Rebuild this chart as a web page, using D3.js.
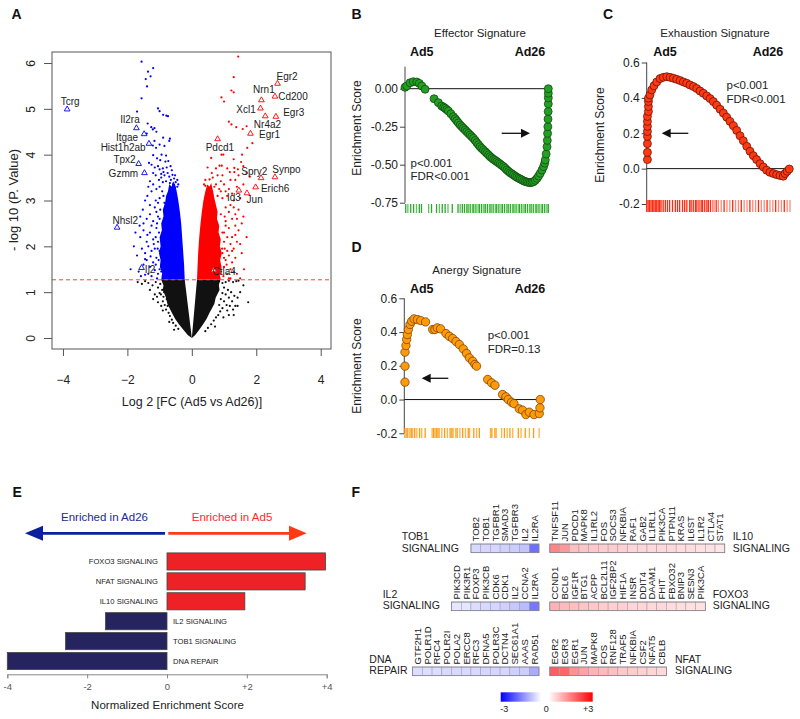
<!DOCTYPE html>
<html><head><meta charset="utf-8">
<script src="https://cdn.jsdelivr.net/npm/d3@7"></script>
<style>body{margin:0;background:#fff;} svg text{font-family:"Liberation Sans",Arial,Helvetica,sans-serif;}</style>
</head><body><svg id="fig" width="800" height="719"></svg>
<script>
// ---------------- DATA ----------------
// Panel A: volcano (log2FC, -log10 P)
const pThreshold = 1.27;
const blackCoreL = [[0,0],[-0.22,1.27],[-0.95,1.27],[-0.88,1.15],[-0.9,1.05],[-0.8,0.88],[-0.76,0.75],[-0.62,0.55],[-0.52,0.42],[-0.4,0.3],[-0.25,0.17],[-0.12,0.06]];
const blackCoreR = [[0,0],[0.16,1.27],[0.88,1.27],[0.84,1.15],[0.86,1.05],[0.74,0.88],[0.7,0.75],[0.55,0.55],[0.46,0.42],[0.35,0.3],[0.22,0.17],[0.1,0.06]];
const blueCore = [[-0.22,1.27],[-0.24,1.6],[-0.27,1.9],[-0.3,2.2],[-0.33,2.5],[-0.37,2.75],[-0.42,3.0],[-0.47,3.2],[-0.52,3.35],[-0.58,3.42],[-0.63,3.3],[-0.7,3.36],[-0.74,3.2],[-0.8,3.1],[-0.83,2.95],[-0.9,2.8],[-0.88,2.65],[-0.95,2.5],[-0.93,2.35],[-1.0,2.2],[-0.97,2.0],[-1.02,1.85],[-0.97,1.7],[-0.99,1.55],[-0.92,1.42],[-0.95,1.27]];
const redCore = [[0.16,1.27],[0.18,1.6],[0.2,1.9],[0.23,2.2],[0.27,2.5],[0.31,2.75],[0.36,3.0],[0.42,3.2],[0.48,3.35],[0.55,3.3],[0.6,3.38],[0.66,3.2],[0.7,3.05],[0.75,2.9],[0.8,2.75],[0.78,2.6],[0.85,2.45],[0.83,2.3],[0.9,2.15],[0.87,2.0],[0.93,1.85],[0.88,1.7],[0.92,1.55],[0.86,1.4],[0.9,1.27]];
const blackPts = [[-1.68,1.22],[-1.55,1.18],[-1.45,1.24],[-1.35,1.2],[-1.22,1.15],[-1.12,1.22],[-1.05,1.1],[-0.98,1.18],[-0.92,1.05],[-0.96,0.95],[-0.88,0.9],[-0.9,0.8],[-0.84,0.72],[-0.8,0.62],[-0.75,0.7],[-0.72,0.55],[-0.68,0.48],[-0.62,0.4],[-0.58,0.33],[-0.5,0.27],[-0.42,0.2],[-0.86,1.0],[-1.0,0.98],[-1.08,0.9],[-0.95,0.7],[-0.78,0.85],
 [-1.3,1.05],[-1.15,0.95],[-1.05,0.78],[-0.9,0.6],[-0.7,0.35],[-1.2,0.85],[-0.55,0.18],
 [0.85,1.24],[0.95,1.2],[1.05,1.22],[1.15,1.25],[1.28,1.22],[1.38,1.24],[1.45,1.25],[1.0,1.1],[1.12,1.05],[1.22,1.0],[1.32,0.92],[1.42,0.88],[1.25,0.8],[1.15,0.88],[1.05,0.95],[0.95,0.98],[0.9,0.85],[1.0,0.8],[1.08,0.72],[1.18,0.7],[1.35,0.7],[1.28,0.62],[0.95,0.65],[0.88,0.58],[0.82,0.5],[0.75,0.45],[0.68,0.38],[0.6,0.3],[0.5,0.22],[0.42,0.15],[1.75,0.78],[1.1,0.6],[0.85,0.72],[1.5,1.0],[1.6,1.15],
 [1.15,0.5],[0.98,0.45],[0.72,0.25],[1.42,0.7],[1.3,0.5]];
const bluePts = [[-1.56,6.03],[-1.36,5.81],[-1.2,5.89],[-1.43,5.65],[-1.28,5.71],[-1.39,5.49],[-1.56,5.23],[-1.7,4.94],[-1.05,5.01],[-1.0,4.95],[-0.89,4.87],[-0.79,4.85],[-0.74,4.84],[-1.37,4.68],[-1.26,4.6],[-1.21,4.55],[-1.16,4.58],[-1.47,4.45],[-1.4,4.46],[-1.1,4.5],[-0.89,4.37],[-0.68,4.35],[-0.7,4.3],[-1.16,4.3],[-1.21,4.2],[-1.0,4.22],[-1.11,4.15],[-0.85,4.19],[-1.2,3.99],[-0.94,4.0],[-0.8,3.98],[-1.08,3.92],[-0.98,3.88],[-0.82,3.85],[-0.73,3.86],[-1.33,3.82],[-1.25,3.78],[-1.15,3.72],[-1.05,3.75],[-1.0,3.68],[-0.9,3.7],[-0.78,3.72],[-0.66,3.75],[-0.62,3.66],[-1.2,3.6],[-1.12,3.55],[-0.95,3.58],[-0.85,3.55],[-0.75,3.6],[-0.7,3.52],[-0.6,3.56],[-0.55,3.48],[-1.3,3.42],[-1.02,3.45],[-0.9,3.4],[-0.8,3.42],[-0.68,3.38],[-0.58,3.35],[-0.5,3.4],
 [-1.38,3.1],[-1.25,3.2],[-1.1,3.25],[-1.0,3.05],[-1.3,2.9],[-1.15,2.85],[-1.05,2.95],[-1.6,2.65],[-1.5,2.5],[-1.4,2.6],[-1.3,2.7],[-1.2,2.55],[-1.1,2.75],[-1.75,2.3],[-1.6,2.2],[-1.5,2.35],[-1.4,2.1],[-1.3,2.3],[-1.2,2.15],[-1.1,2.4],[-1.55,1.95],[-1.45,1.85],[-1.35,2.0],[-1.25,1.9],[-1.15,1.95],[-1.05,2.1],[-1.5,1.6],[-1.4,1.7],[-1.3,1.55],[-1.2,1.65],[-1.1,1.75],[-1.0,1.5],[-1.35,1.4],[-1.25,1.35],[-1.05,1.4],[-0.95,1.6],[-0.9,1.35],[-1.65,1.45],[-1.45,1.38],
 [-0.92,3.2],[-0.85,2.95],[-1.0,2.6],[-1.02,2.3],[-1.0,1.9],[-0.95,1.45],[-0.45,3.3],[-0.52,3.28],[-0.88,3.1],[-0.98,2.8],
 [-1.9,1.5],[-1.7,1.8],[-1.8,2.0],[-1.62,2.45],[-1.45,3.0],[-1.52,2.8],[-1.35,3.3],[-1.2,3.35],[-1.12,3.0],[-1.25,2.45],[-1.18,2.05],[-1.12,1.6],[-1.08,1.3],[-1.15,1.48],[-1.28,1.78],[-1.38,2.25],[-1.45,1.72],[-1.58,1.35],[-1.0,3.3],[-0.95,3.5],[-0.88,3.62],[-0.65,3.45],[-0.52,3.55],[-0.45,3.45],[-0.42,3.35],[-1.05,2.65],[-1.08,2.5],[-1.12,2.2],[-1.06,1.95],[-1.03,1.7]];
const redPts = [[1.44,6.14],[1.3,5.69],[1.23,5.4],[1.3,5.36],[0.92,5.25],[1.0,5.16],[1.15,4.72],[1.23,4.66],[1.38,4.6],[1.58,4.56],[1.7,4.62],[1.88,4.25],[1.72,4.15],[0.92,4.0],[0.98,4.0],[0.6,3.93],[1.56,4.0],[1.3,3.9],[1.53,3.84],[1.32,3.71],[0.86,3.76],[0.93,3.76],[0.49,3.72],[1.1,3.7],[1.18,3.62],[1.32,3.62],[1.43,3.68],[1.6,3.75],[1.7,3.6],[1.8,3.52],[0.8,3.55],[0.65,3.5],[0.55,3.46],[1.2,3.45],[1.35,3.45],[0.9,3.42],[1.0,3.35],[1.4,3.3],[1.6,3.35],[1.15,3.25],[0.75,3.35],[0.85,3.25],
 [1.3,3.0],[1.2,2.9],[1.1,3.1],[1.45,2.8],[1.35,2.7],[1.25,2.6],[1.15,2.75],[1.05,2.85],[1.55,2.5],[1.45,2.35],[1.35,2.45],[1.25,2.2],[1.15,2.4],[1.05,2.55],[1.0,2.3],[1.5,2.05],[1.4,2.1],[1.3,1.95],[1.2,2.05],[1.1,1.9],[1.0,2.1],[1.35,1.75],[1.25,1.65],[1.15,1.8],[1.05,1.7],[0.95,1.85],[1.3,1.45],[1.2,1.5],[1.1,1.4],[1.0,1.55],[0.9,1.45],[1.4,1.4],
 [0.95,3.05],[0.9,2.7],[0.95,2.3],[0.94,1.95],[0.88,1.4],[0.42,3.32],[0.7,3.3],[0.8,3.1],
 [1.2,1.3],[1.5,1.3],[1.62,1.5],[1.55,1.85],[1.7,2.2],[1.6,2.65],[1.5,3.05],[1.45,3.55],[1.25,3.15],[1.05,3.2],[0.95,3.55],[0.75,3.7],[0.62,3.6],[0.42,3.45],[0.38,3.35],[1.02,2.65],[1.05,2.45],[1.1,2.2],[1.02,1.95],[1.0,1.75],[0.98,1.35],[1.08,1.6],[1.15,1.3],[1.25,1.9],[1.35,2.25],[1.4,2.6],[1.3,2.85],[0.9,3.2]];
const geneNames = ["Tcrg","Il2ra","Itgae","Hist1h2ab","Tpx2","Gzmm","Nhsl2","Il2","Egr2","Nrn1","Cd200","Xcl1","Egr3","Nr4a2","Egr1","Pdcd1","Spry2","Synpo","Erich6","Id3","Jun","Ctla4"];
const geneFC   = [-3.87,-1.72,-1.48,-1.33,-1.65,-1.47,-2.32,-1.56,2.66,2.16,2.58,2.13,2.61,2.28,1.82,0.80,2.15,2.58,1.98,1.46,1.71,0.68];
const geneP    = [4.99,4.58,4.45,4.24,3.80,3.60,2.41,1.53,5.55,5.19,5.27,5.01,4.83,4.84,4.46,4.34,3.49,3.51,3.29,3.22,3.16,1.48];
// label placement (anchor, dx, dy in px)
const geneLabelPlace = [["middle",3,-4.3],["end",3.3,-5],["end",-6,6.7],["end",-3.3,7],["end",-3,-0.7],["end",-6.4,4],["start",-4.6,-3.7],["start",3.3,5.3],["start",-1,-3.3],["middle",2.5,-7],["start",3.3,3.3],["end",-4.7,4.6],["start",7.3,-0.7],["middle",2.2,12],["start",8.6,4.6],["middle",2.3,12.4],["middle",-6.8,-3.3],["middle",11.5,-4],["start",5.3,4.4],["end",2,11],["start",-0.3,10],["start",-1.3,5]];
const volcanoXTicks = [-4,-2,0,2,4];
const volcanoYTicks = [0,1,2,3,4,5,6];

// Panel B: Effector signature (rank fraction, ES)
const effRank = [0,0.012,0.035,0.058,0.082,0.10,0.117,0.14,0.203,0.233,0.256,0.27,0.28,0.292,0.303,0.32,0.338,0.35,0.361,0.373,0.385,0.397,0.408,0.42,0.431,0.443,0.455,0.466,0.478,0.49,0.501,0.513,0.524,0.536,0.548,0.56,0.571,0.583,0.594,0.606,0.618,0.63,0.641,0.653,0.664,0.676,0.688,0.70,0.711,0.723,0.734,0.746,0.758,0.77,0.781,0.793,0.804,0.816,0.828,0.84,0.851,0.863,0.874,0.886,0.897,0.909,0.921,0.932,0.944,0.956,0.967,0.975,0.979,0.985,0.991,0.993,0.995,0.997,0.998,0.999,1,1,1,1];
const effES = [0.009,0.018,0.039,0.046,0.044,0.035,0.018,-0.004,-0.066,-0.092,-0.114,-0.122,-0.129,-0.138,-0.147,-0.165,-0.184,-0.198,-0.211,-0.225,-0.239,-0.25,-0.261,-0.272,-0.283,-0.294,-0.305,-0.316,-0.327,-0.341,-0.355,-0.369,-0.382,-0.393,-0.404,-0.415,-0.425,-0.436,-0.447,-0.456,-0.465,-0.472,-0.48,-0.488,-0.496,-0.505,-0.513,-0.524,-0.535,-0.544,-0.553,-0.56,-0.568,-0.576,-0.583,-0.589,-0.594,-0.6,-0.607,-0.611,-0.614,-0.617,-0.618,-0.616,-0.612,-0.603,-0.59,-0.575,-0.557,-0.535,-0.513,-0.49,-0.469,-0.43,-0.382,-0.34,-0.294,-0.25,-0.2,-0.15,-0.1,-0.06,-0.03,0];
const effRug = [0.005,0.02,0.04,0.06,0.08,0.1,0.115,0.165,0.185,0.22,0.24,0.26,0.28,0.3,0.33,0.37,0.385,0.40,0.415,0.43,0.44,0.455,0.47,0.48,0.495,0.51,0.52,0.535,0.55,0.56,0.575,0.59,0.60,0.615,0.63,0.64,0.655,0.67,0.68,0.695,0.71,0.72,0.735,0.75,0.76,0.775,0.79,0.80,0.815,0.83,0.84,0.855,0.87,0.88,0.895,0.91,0.92,0.935,0.95,0.96,0.975,0.99,1.0];

// Panel C: Exhaustion signature
const excRank = [0.005,0.005,0.005,0.005,0.005,0.005,0.005,0.005,0.012,0.012,0.012,0.012,0.023,0.035,0.051,0.07,0.093,0.116,0.14,0.163,0.186,0.209,0.233,0.256,0.279,0.302,0.326,0.349,0.372,0.395,0.419,0.442,0.465,0.488,0.512,0.535,0.558,0.581,0.605,0.628,0.651,0.674,0.698,0.721,0.744,0.767,0.791,0.814,0.837,0.86,0.884,0.907,0.93,0.953,0.965,0.98,0.995];
const excES = [0.051,0.092,0.141,0.182,0.21,0.239,0.267,0.295,0.323,0.351,0.379,0.398,0.417,0.445,0.468,0.49,0.509,0.516,0.52,0.516,0.511,0.505,0.498,0.49,0.483,0.473,0.464,0.453,0.439,0.426,0.411,0.396,0.379,0.359,0.336,0.314,0.291,0.267,0.242,0.216,0.186,0.158,0.126,0.098,0.073,0.051,0.028,0.009,-0.009,-0.021,-0.028,-0.034,-0.039,-0.043,-0.028,-0.015,-0.002];
const excRug = [0,0.01,0.02,0.03,0.04,0.05,0.06,0.07,0.08,0.09,0.10,0.115,0.13,0.145,0.16,0.18,0.2,0.215,0.23,0.25,0.265,0.28,0.30,0.31,0.325,0.34,0.35,0.365,0.38,0.39,0.405,0.42,0.43,0.445,0.46,0.47,0.485,0.5,0.52,0.54,0.56,0.58,0.6,0.62,0.64,0.66,0.68,0.70,0.72,0.74,0.76,0.78,0.80,0.82,0.84,0.86,0.88,0.90,0.92,0.94,0.96,0.98,1.0];

// Panel D: Anergy signature
const anRank = [0.005,0.005,0.005,0.012,0.017,0.022,0.029,0.041,0.053,0.07,0.094,0.118,0.153,0.204,0.22,0.237,0.261,0.30,0.324,0.348,0.372,0.396,0.424,0.448,0.468,0.492,0.508,0.52,0.60,0.628,0.652,0.707,0.731,0.748,0.772,0.789,0.827,0.851,0.875,0.899,0.933,0.971,0.976,0.978];
const anES = [0.103,0.198,0.281,0.32,0.356,0.385,0.415,0.445,0.464,0.478,0.474,0.468,0.46,0.415,0.415,0.425,0.419,0.391,0.375,0.362,0.344,0.326,0.30,0.273,0.247,0.227,0.208,0.198,0.119,0.099,0.085,0.03,0.016,0.0,-0.016,-0.024,-0.055,-0.063,-0.089,-0.075,-0.089,-0.083,-0.049,0.0];
const anRug = [0.005,0.015,0.025,0.04,0.05,0.06,0.075,0.09,0.11,0.125,0.15,0.2,0.21,0.22,0.23,0.24,0.25,0.27,0.29,0.31,0.33,0.34,0.35,0.37,0.38,0.40,0.42,0.44,0.46,0.47,0.5,0.52,0.54,0.62,0.63,0.65,0.66,0.70,0.72,0.74,0.76,0.78,0.82,0.84,0.87,0.9,0.93,0.97];

// Panel E: normalized enrichment scores
const pathways = ["FOXO3 SIGNALING","NFAT SIGNALING","IL10 SIGNALING","IL2 SIGNALING","TOB1 SIGNALING","DNA REPAIR"];
const nes = [3.97,3.46,1.95,-1.54,-2.54,-4.0];
const nesTicks = [-4,-2,0,2,4];
const nesTickLabels = ["-4","-2","0","+2","+4"];

// Panel F: heatmaps
const tob1Genes = ["TOB2","TOB1","TGFBR1","SMAD3","TGFBR3","IL2","IL2RA"];
const tob1Vals = [-0.45,-0.5,-0.5,-0.55,-0.6,-0.7,-1.7];
const il10Genes = ["TNFSF11","JUN","PDCD1","MAPK8","IL1RL2","FOS","SOCS3","NFKBIA","RAF1","GAB2","IL1RL1","PIK3CA","PTPN11","KRAS","IL6ST","IL1R2","CTLA4","STAT1"];
const il10Vals = [1.45,1.2,0.75,0.7,0.65,0.6,0.6,0.55,0.5,0.5,0.45,0.45,0.45,0.4,0.4,0.35,0.35,0.3];
const il2Genes = ["PIK3CD","PIK3R1","FOXP3","PIK3CB","CDK6","CDK1","IL2","CCNA2","IL2RA"];
const il2Vals = [-0.3,-0.3,-0.4,-0.45,-0.5,-0.55,-0.65,-0.8,-1.6];
const foxo3Genes = ["CCND1","BCL6","IGF1R","BTG1","ACPP","BCL2L11","IGF2BP2","HIF1A","INSR","DDIT4","DAAM1","FHIT","FBXO32","BNIP3","SESN3","PIK3CA"];
const foxo3Vals = [0.9,0.8,0.75,0.7,0.65,0.6,0.55,0.55,0.5,0.5,0.45,0.45,0.4,0.4,0.35,0.35];
const dnaGenes = ["GTF2H1","POLR1D","RFC4","POLR2I","POLA2","ERCC8","RFC3","DFNA5","POLR3C","DCTN4","SEC61A1","AAAS","RAD51"];
const dnaVals = [-0.4,-0.4,-0.4,-0.45,-0.45,-0.45,-0.45,-0.5,-0.5,-0.5,-0.55,-0.6,-1.0];
const nfatGenes = ["EGR2","EGR3","EGR1","JUN","MAPK8","FOS","RNF128","TRAF5","NFKBIA","CSF2","NFAT5","CBLB"];
const nfatVals = [1.9,1.8,1.3,1.1,0.9,0.8,0.75,0.65,0.6,0.55,0.5,0.45];
const colorbarTicks = [-3,0,3];
const colorbarLabels = ["-3","0","+3"];

// ---------------- DRAW ----------------
const svg = d3.select("#fig");
svg.append("rect").attr("width",800).attr("height",719).attr("fill","#fff");
const TXT = "#222";

function letter(t,x,y){ svg.append("text").attr("x",x).attr("y",y).text(t).attr("font-size",14).attr("font-weight","bold").attr("fill","#111"); }
letter("A",11.5,18.5); letter("B",351.5,18.5); letter("C",603,18.5); letter("D",351.5,251.5); letter("E",12.5,496.5); letter("F",351.5,496.5);

// ---- Panel A ----
(function(){
  const g = svg.append("g");
  const x = d3.scaleLinear().domain([-4.34,4.32]).range([52,331]);
  const y = d3.scaleLinear().domain([-0.24,6.24]).range([349,52]);
  const line = d3.line().x(d=>x(d[0])).y(d=>y(d[1]));
  g.append("path").attr("d",line(blackCoreL)+"Z").attr("fill","#111");
  g.append("path").attr("d",line(blackCoreR)+"Z").attr("fill","#111");
  g.selectAll(".bk").data(blackPts).join("circle").attr("cx",d=>x(d[0])).attr("cy",d=>y(d[1])).attr("r",1.1).attr("fill","#111");
  g.append("path").attr("d",line(blueCore)+"Z").attr("fill","#0000ff");
  g.selectAll(".bl").data(bluePts).join("circle").attr("cx",d=>x(d[0])).attr("cy",d=>y(d[1])).attr("r",1.1).attr("fill","#0000ff");
  g.append("path").attr("d",line(redCore)+"Z").attr("fill","#ff0000");
  g.selectAll(".rd").data(redPts).join("circle").attr("cx",d=>x(d[0])).attr("cy",d=>y(d[1])).attr("r",1.1).attr("fill","#ff0000");
  g.append("line").attr("x1",52).attr("x2",331).attr("y1",y(pThreshold)).attr("y2",y(pThreshold))
    .attr("stroke","#ff4040").attr("stroke-width",1).attr("stroke-dasharray","4,3");
  const tri = d3.symbol().type(d3.symbolTriangle).size(14);
  geneNames.forEach((n,i)=>{
    const px = x(geneFC[i]), py = y(geneP[i]);
    const col = geneFC[i] < 0 ? "#0000ff" : "#ff0000";
    g.append("path").attr("d",tri()).attr("transform",`translate(${px},${py})`).attr("fill","#fff").attr("stroke",col).attr("stroke-width",0.9);
    const lp = geneLabelPlace[i];
    g.append("text").attr("x",px+lp[1]).attr("y",py+lp[2]).attr("text-anchor",lp[0]).attr("font-size",10).attr("fill",TXT).text(n);
  });
  g.append("rect").attr("x",52).attr("y",52).attr("width",279).attr("height",297).attr("fill","none").attr("stroke","#555").attr("stroke-width",1);
  const xa = g.append("g").attr("transform","translate(0,349)")
    .call(d3.axisBottom(x).tickValues(volcanoXTicks).tickSize(7).tickFormat(d=>String(d).replace("-","\u2212")));
  xa.select(".domain").remove();
  xa.selectAll("line").attr("stroke","#555");
  xa.selectAll("text").attr("y",35).attr("dy",0).attr("font-size",12).attr("fill",TXT).attr("font-family",null);
  const ya = g.append("g").attr("transform","translate(52,0)")
    .call(d3.axisLeft(y).tickValues(volcanoYTicks).tickSize(8).tickFormat(d=>String(d)));
  ya.select(".domain").remove();
  ya.selectAll("line").attr("stroke","#555");
  ya.selectAll("text").attr("transform","rotate(-90)").attr("x",0).attr("y",-17).attr("dy",0).attr("text-anchor","middle").attr("font-size",12).attr("fill",TXT).attr("font-family",null);
  g.append("text").attr("transform","translate(18,200) rotate(-90)").attr("text-anchor","middle").attr("font-size",13).attr("fill",TXT).text("- log 10 (P. Value)");
  g.append("text").attr("x",192).attr("y",406).attr("text-anchor","middle").attr("font-size",12.5).attr("fill",TXT).text("Log 2 [FC (Ad5 vs Ad26)]");
})();

// ---- GSEA panels ----
function gsea(o){
  const g = svg.append("g");
  const x = d3.scaleLinear().domain([0,1]).range(o.xr);
  const y = d3.scaleLinear().domain(o.yd).range(o.yr);
  g.append("text").attr("x",o.titleX).attr("y",o.titleY).attr("text-anchor","middle").attr("font-size",11.5).attr("fill",TXT).text(o.title);
  g.append("text").attr("x",o.ad5X).attr("y",o.titleY+19).attr("text-anchor","middle").attr("font-size",12.5).attr("font-weight","bold").attr("fill","#111").text("Ad5");
  g.append("text").attr("x",o.ad26X).attr("y",o.titleY+19).attr("text-anchor","middle").attr("font-size",12.5).attr("font-weight","bold").attr("fill","#111").text("Ad26");
  const ax = g.append("g").attr("transform",`translate(${o.xr[0]},0)`)
    .call(d3.axisLeft(y).tickValues(o.ticks).tickSize(5).tickPadding(2).tickFormat(d=>d.toFixed(o.dec)));
  ax.select(".domain").remove();
  ax.selectAll("line").attr("stroke","#444");
  ax.selectAll("text").attr("font-size",12).attr("fill",TXT).attr("font-family",null);
  ax.append("line").attr("x1",0).attr("x2",0).attr("y1",y(o.axisTop)).attr("y2",y(o.yd[0])).attr("stroke","#444").attr("stroke-width",1);
  g.append("text").attr("transform",`translate(${o.ylabX},${o.ylabY}) rotate(-90)`).attr("text-anchor","middle").attr("font-size",12).attr("fill",TXT).text("Enrichment Score");
  g.append("line").attr("x1",x(0)).attr("x2",x(1)).attr("y1",y(0)).attr("y2",y(0)).attr("stroke","#111").attr("stroke-width",1);
  g.selectAll(".rug").data(o.rug).join("line").attr("x1",d=>x(d)).attr("x2",d=>x(d)).attr("y1",o.rugY[0]).attr("y2",o.rugY[1])
    .attr("stroke",(d,i)=>o.rugColor(d,i)).attr("stroke-width",1.3);
  const pts = o.rank.map((r,i)=>[r,o.es[i]]);
  g.selectAll(".pt").data(pts).join("circle").attr("cx",d=>x(d[0])).attr("cy",d=>y(d[1])).attr("r",o.r)
    .attr("fill",o.fill).attr("stroke",o.stroke).attr("stroke-width",0.7);
  const a = o.arrow, dir = a.x2 > a.x1 ? 1 : -1;
  g.append("line").attr("x1",a.x1).attr("x2",a.x2-dir*7).attr("y1",a.y).attr("y2",a.y).attr("stroke","#111").attr("stroke-width",1.3);
  g.append("path").attr("d",`M${a.x2},${a.y} L${a.x2-dir*9},${a.y-4.5} L${a.x2-dir*9},${a.y+4.5} Z`).attr("fill","#111");
  g.append("text").attr("x",o.statX).attr("y",o.statY).attr("font-size",11.5).attr("fill",TXT).text(o.stat1);
  g.append("text").attr("x",o.statX).attr("y",o.statY+13.5).attr("font-size",11.5).attr("fill",TXT).text(o.stat2);
}
gsea({title:"Effector Signature",titleX:480,titleY:37,ad5X:421.7,ad26X:530,
  xr:[405,548.3],yd:[-0.75,0],yr:[202.7,88.7],axisTop:0.145,ticks:[0,-0.25,-0.5,-0.75],dec:2,
  ylabX:361,ylabY:128,rug:effRug,rugY:[204,213],rugColor:(d,i)=> i%3===1?"#5cc45c":"#2ea82e",
  rank:effRank,es:effES,r:4,fill:"#23a023",stroke:"#0e3f0e",
  arrow:{x1:501.7,x2:530,y:133.3},statX:410.5,statY:166.5,stat1:"p<0.001",stat2:"FDR<0.001"});
gsea({title:"Exhaustion Signature",titleX:715,titleY:37,ad5X:665,ad26X:768,
  xr:[646.7,790],yd:[-0.2,0.6],yr:[204,62.5],axisTop:0.6,ticks:[0.6,0.4,0.2,0,-0.2],dec:1,
  ylabX:603.5,ylabY:135,rug:excRug,rugY:[200,212],rugColor:(d,i)=> (d>0.45 && i%3!==0)?"#ff8a7a":"#ff2a10",
  rank:excRank,es:excES,r:4,fill:"#ff3a12",stroke:"#5a0c00",
  arrow:{x1:688.3,x2:661.7,y:133.3},statX:726.5,statY:89,stat1:"p<0.001",stat2:"FDR<0.001"});
gsea({title:"Anergy Signature",titleX:476.7,titleY:273.5,ad5X:421.7,ad26X:530,
  xr:[404.3,543.3],yd:[-0.2,0.6],yr:[433.3,298.3],axisTop:0.6,ticks:[0.6,0.4,0.2,0,-0.2],dec:1,
  ylabX:361,ylabY:366,rug:anRug,rugY:[428,438],rugColor:(d,i)=> i%2?"#ffb347":"#ff9a10",
  rank:anRank,es:anES,r:4.2,fill:"#ff9a0a",stroke:"#6b3a00",
  arrow:{x1:448.3,x2:421.7,y:378.3},statX:487.7,statY:339.3,stat1:"p<0.001",stat2:"FDR=0.13"});

// ---- Panel E ----
(function(){
  const g = svg.append("g");
  const x = d3.scaleLinear().domain([-4,4]).range([7.3,326.7]);
  const y = d3.scaleBand().domain(pathways).range([551.5,671]).paddingInner(0.14).paddingOuter(0.07);
  g.append("text").attr("x",104.5).attr("y",520.5).attr("text-anchor","middle").attr("font-size",11.5).attr("fill","#1c2a94").text("Enriched in Ad26");
  g.append("text").attr("x",232).attr("y",520.5).attr("text-anchor","middle").attr("font-size",11.5).attr("fill","#ff2a2a").text("Enriched in Ad5");
  g.append("line").attr("x1",165).attr("x2",40).attr("y1",533.3).attr("y2",533.3).attr("stroke","#0d1f9c").attr("stroke-width",2.8);
  g.append("path").attr("d","M25,533.3 L43,525.8 L43,540.8 Z").attr("fill","#0d1f9c");
  g.append("line").attr("x1",168.3).attr("x2",292).attr("y1",533.3).attr("y2",533.3).attr("stroke","#ff3a14").attr("stroke-width",2.8);
  g.append("path").attr("d","M306.7,533.3 L289,525.8 L289,540.8 Z").attr("fill","#ff3a14");
  g.selectAll(".bar").data(pathways).join("rect")
    .attr("x",(d,i)=>x(Math.min(0,nes[i]))).attr("width",(d,i)=>Math.abs(x(nes[i])-x(0)))
    .attr("y",d=>y(d)).attr("height",y.bandwidth())
    .attr("fill",(d,i)=>nes[i]>0?"#ee2226":"#26245f").attr("stroke","#444").attr("stroke-width",0.8);
  g.selectAll(".lab").data(pathways).join("text")
    .attr("x",(d,i)=> nes[i]>0 ? x(0)-9 : x(0)+6)
    .attr("y",d=>y(d)+y.bandwidth()/2+2.8)
    .attr("text-anchor",(d,i)=> nes[i]>0?"end":"start").attr("font-size",7.6).attr("fill","#222").text(d=>d);
  const ax = g.append("g").attr("transform","translate(0,674.3)")
    .call(d3.axisBottom(x).tickValues(nesTicks).tickSize(4).tickPadding(5).tickFormat((d,i)=>nesTickLabels[i]));
  ax.select(".domain").attr("stroke","#888");
  ax.selectAll("line").attr("stroke","#888");
  ax.selectAll("text").attr("font-size",9.5).attr("fill","#555").attr("font-family",null);
  g.append("text").attr("x",167.5).attr("y",709).attr("text-anchor","middle").attr("font-size",11.5).attr("fill",TXT).text("Normalized Enrichment Score");
})();

// ---- Panel F ----
(function(){
  const g = svg.append("g");
  const color = d3.scaleLinear().domain([-3,0,3]).range(["#0000ff","#ffffff","#ff0000"]);
  const cw = 9.72, ch = 8.7;
  function block(genes, vals, edge, top, side){
    const n = genes.length;
    const r = side==="left" ? [edge-n*cw, edge] : [edge, edge+n*cw];
    const x = d3.scaleBand().domain(genes).range(r);
    g.selectAll(null).data(genes).join("rect").attr("x",d=>x(d)).attr("y",top).attr("width",x.bandwidth()).attr("height",ch)
      .attr("fill",(d,i)=>color(vals[i])).attr("stroke","#9a9aa8").attr("stroke-width",0.5);
    g.append("rect").attr("x",r[0]).attr("y",top).attr("width",r[1]-r[0]).attr("height",ch).attr("fill","none").attr("stroke","#7a7a88").attr("stroke-width",0.7);
    g.selectAll(null).data(genes).join("text")
      .attr("transform",d=>`translate(${x(d)+x.bandwidth()/2+3.4},${top-2.5}) rotate(-90)`)
      .attr("font-size",9.5).attr("fill",TXT).text(d=>d);
  }
  function rowLabel(a,b,x,y){
    g.append("text").attr("x",x).attr("y",y).attr("font-size",10.5).attr("fill",TXT).text(a);
    g.append("text").attr("x",x).attr("y",y+11.7).attr("font-size",10.5).attr("fill",TXT).text(b);
  }
  block(tob1Genes,tob1Vals,539,544,"left");
  block(il10Genes,il10Vals,549.8,544,"right");
  block(il2Genes,il2Vals,539,602,"left");
  block(foxo3Genes,foxo3Vals,549.8,602,"right");
  block(dnaGenes,dnaVals,539,667,"left");
  block(nfatGenes,nfatVals,549.8,667,"right");
  rowLabel("TOB1","SIGNALING",401.7,540);
  rowLabel("IL10","SIGNALING",732.7,540);
  rowLabel("IL2","SIGNALING",382.7,597.5);
  rowLabel("FOXO3","SIGNALING",712.7,597.5);
  rowLabel("DNA","REPAIR",369.3,662.7);
  rowLabel("NFAT","SIGNALING",675,662.7);
  const cb = d3.scaleLinear().domain([-3,3]).range([500.7,592.7]);
  const grad = svg.append("defs").append("linearGradient").attr("id","cbg");
  grad.append("stop").attr("offset","0%").attr("stop-color",color(-3));
  grad.append("stop").attr("offset","44%").attr("stop-color","#ffffff");
  grad.append("stop").attr("offset","52%").attr("stop-color","#ffffff");
  grad.append("stop").attr("offset","100%").attr("stop-color",color(3));
  g.append("rect").attr("x",cb(-3)).attr("y",692.3).attr("width",cb(3)-cb(-3)).attr("height",9.4).attr("fill","url(#cbg)");
  g.selectAll(".cbl").data(colorbarTicks).join("text").attr("x",(d,i)=>cb(d)+[3.5,-0.5,-4.5][i]).attr("y",711.5)
    .attr("text-anchor","middle").attr("font-size",9).attr("fill",TXT).text((d,i)=>colorbarLabels[i]);
})();
</script></body></html>
